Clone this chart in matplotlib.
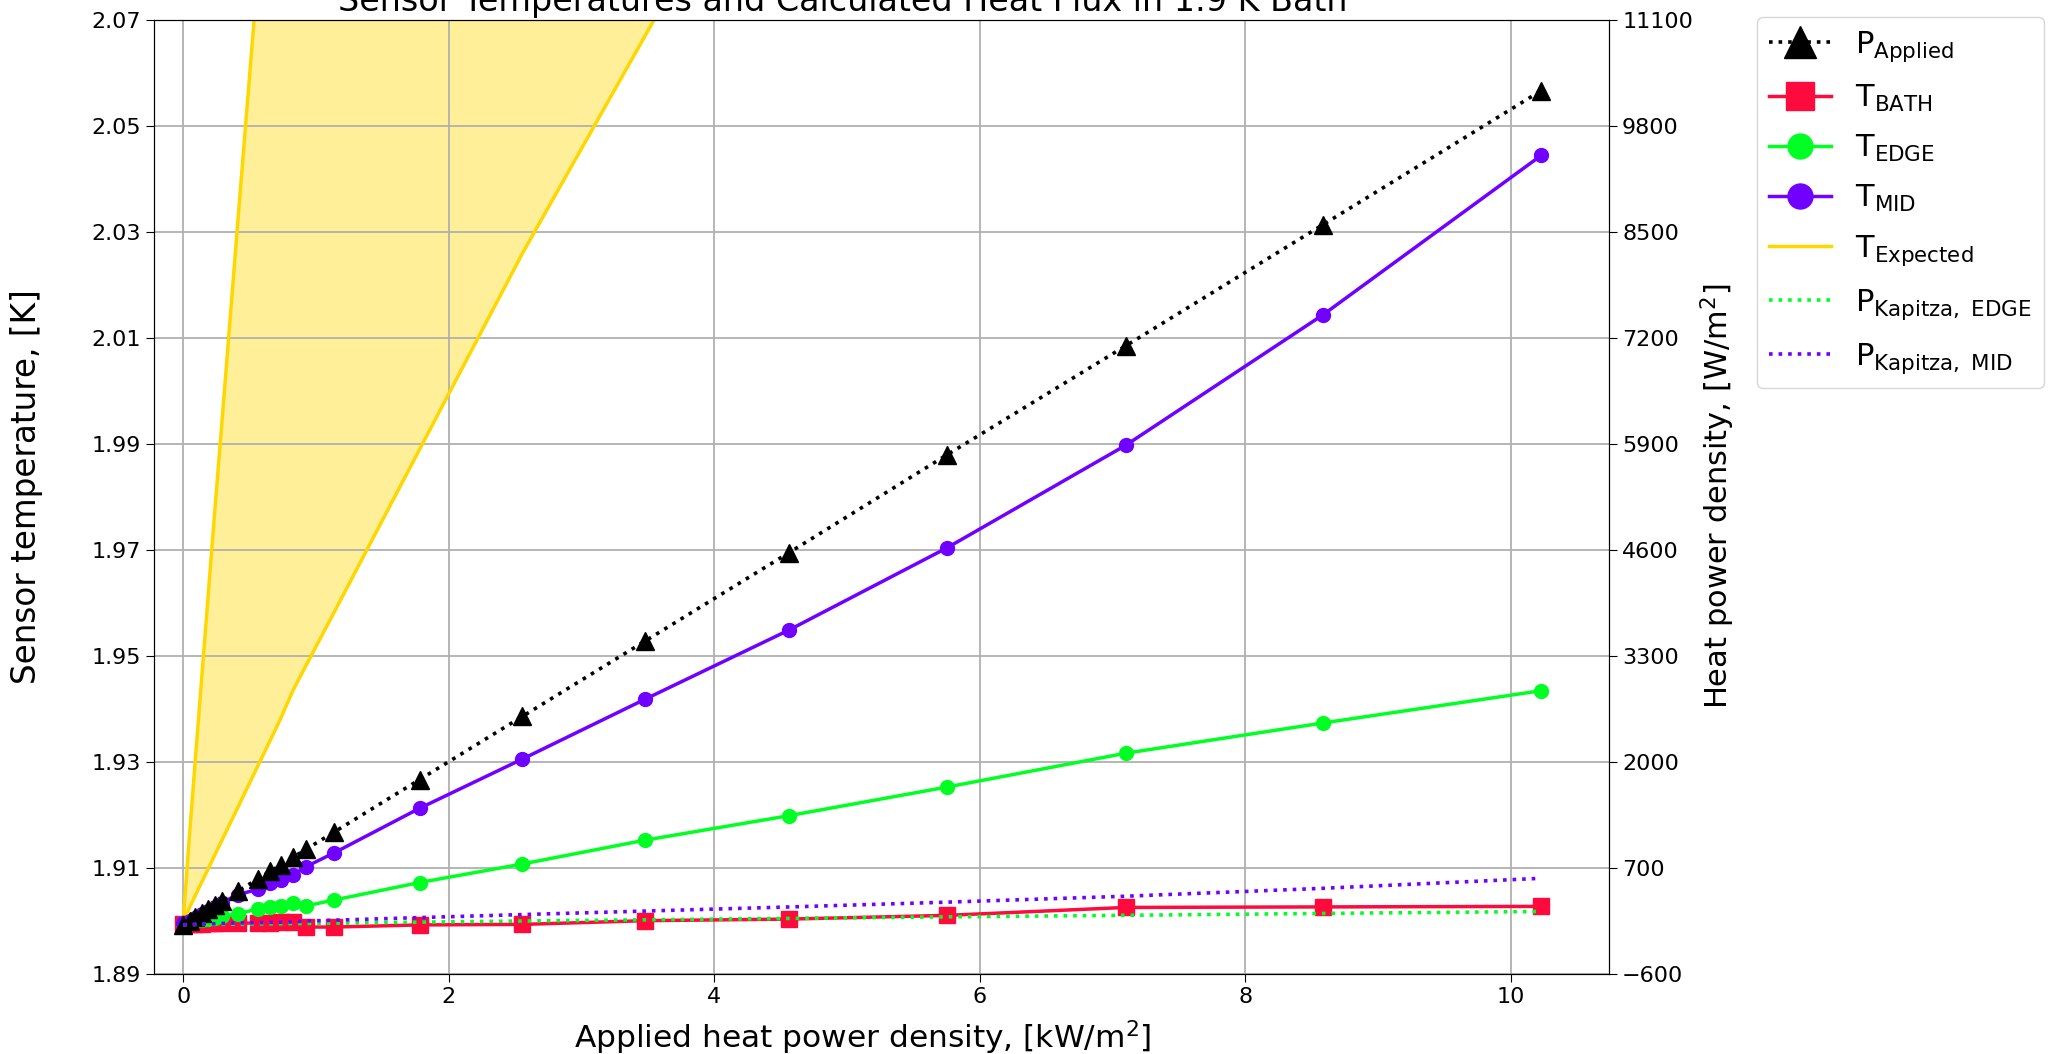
import numpy as np
import matplotlib
matplotlib.use("Agg")
import matplotlib.pyplot as plt

plt.rcParams['font.family'] = ['DejaVu Sans']
plt.rcParams['mathtext.default'] = 'regular'

# Applied heat power density [kW/m^2]
x_kw = [0.0, 0.05, 0.09, 0.14, 0.19, 0.24, 0.29, 0.41, 0.56, 0.655, 0.735, 0.826,
        0.926, 1.137, 1.78, 2.555, 3.48, 4.56, 5.75, 7.10, 8.585, 10.23]

# Applied power [W/m^2] (right axis)
p_applied = [0, 50, 90, 140, 190, 240, 290, 410, 560, 655, 735, 826,
             926, 1137, 1780, 2555, 3480, 4560, 5760, 7100, 8585, 10230]

# Sensor temperatures [K]
t_bath = [1.8993, 1.8993, 1.8994, 1.8994, 1.8995, 1.8995, 1.8995, 1.8995, 1.8996, 1.8996,
          1.8997, 1.8997, 1.8988, 1.8988, 1.8992, 1.8993, 1.9000, 1.9003, 1.9010,
          1.9025, 1.9026, 1.9027]
t_edge = [1.8995, 1.8998, 1.9000, 1.9002, 1.9004, 1.9006, 1.9008, 1.9013, 1.9022, 1.9025,
          1.9028, 1.9034, 1.9028, 1.9039, 1.9072, 1.9107, 1.9152, 1.9198, 1.9252,
          1.9316, 1.9373, 1.9434]
t_mid = [1.8995, 1.9000, 1.9005, 1.9012, 1.9018, 1.9025, 1.9034, 1.9049, 1.9059, 1.9072,
         1.9076, 1.9086, 1.9102, 1.9128, 1.9212, 1.9305, 1.9418, 1.9548, 1.9703,
         1.9897, 2.0143, 2.0444]

# Expected temperature band [K]
t_exp_upper = [1.9000, 1.9170, 1.9300, 1.9460, 1.9620, 1.9780, 1.9935, 2.0315, 2.0780,
               2.1070, 2.1310, 2.1580, 2.1880, 2.2500, 2.4400, 2.6600, 2.9200, 3.2200,
               3.5500, 3.9200, 4.3300, 4.7800]
t_exp_lower = [1.9000, 1.9026, 1.9047, 1.9073, 1.9099, 1.9125, 1.9151, 1.9213, 1.9291,
               1.9340, 1.9382, 1.9434, 1.9482, 1.9582, 1.9889, 2.0259, 2.0670, 2.1150,
               2.1680, 2.2280, 2.2940, 2.3670]

# Kapitza heat flux [W/m^2] (right axis)
p_kap_edge = [0, 2, 3, 4, 5, 6, 6, 7, 10, 12, 12, 15, 16, 20, 32, 46, 61, 78, 97,
              116, 139, 163]
p_kap_mid = [0, 3, 5, 8, 10, 13, 16, 22, 25, 30, 32, 36, 46, 56, 88, 125, 168, 218,
             277, 350, 447, 570]

left_ticks = [1.89, 1.91, 1.93, 1.95, 1.97, 1.99, 2.01, 2.03, 2.05, 2.07]
right_ticks = [-600, 700, 2000, 3300, 4600, 5900, 7200, 8500, 9800, 11100]
x_ticks = [0, 2, 4, 6, 8, 10]

c_red = '#ff0a3c'
c_green = '#00ff22'
c_purple = '#7000ff'
c_gold = '#ffd700'

fig = plt.figure(figsize=(20.48, 10.54), dpi=100)
ax = fig.add_axes([0.0752, 0.0762, 0.7104, 0.9051])
ax2 = ax.twinx()

ax.fill_between(x_kw, t_exp_lower, t_exp_upper, color=c_gold, alpha=0.4, lw=0, zorder=1)
ax.plot(x_kw, t_exp_upper, color=c_gold, lw=2.5, zorder=2)
l_exp, = ax.plot(x_kw, t_exp_lower, color=c_gold, lw=2.5, zorder=2, label=r'T$_{Expected}$')
l_bath, = ax.plot(x_kw, t_bath, color=c_red, lw=2.5, marker='s', ms=11, zorder=3,
                  label=r'T$_{BATH}$')
l_edge, = ax.plot(x_kw, t_edge, color=c_green, lw=2.5, marker='o', ms=10, zorder=3,
                  label=r'T$_{EDGE}$')
l_mid, = ax.plot(x_kw, t_mid, color=c_purple, lw=2.5, marker='o', ms=10, zorder=3,
                 label=r'T$_{MID}$')

l_app, = ax2.plot(x_kw, p_applied, color='black', ls=':', lw=2.6, marker='^', ms=13,
                  label=r'P$_{Applied}$')
l_ke, = ax2.plot(x_kw, p_kap_edge, color=c_green, ls=':', lw=2.6,
                 label=r'P$_{Kapitza,\ EDGE}$')
l_km, = ax2.plot(x_kw, p_kap_mid, color=c_purple, ls=':', lw=2.6,
                 label=r'P$_{Kapitza,\ MID}$')

ax.set_xlim(-0.22, 10.74)
ax.set_ylim(1.89, 2.07)
ax2.set_ylim(-600, 11100)
ax.set_xticks(x_ticks)
ax.set_yticks(left_ticks)
ax.set_yticklabels([f'{v:.2f}' for v in left_ticks])
ax2.set_yticks(right_ticks)
ax.grid(True, color='#b0b0b0', lw=1.3)
ax.tick_params(labelsize=16, length=6)
ax2.tick_params(labelsize=16, length=6)

ax.set_xlabel(r'Applied heat power density, [kW/m$^2$]', fontsize=22.5)
ax.xaxis.set_label_coords(0.487, -0.047)
ax.set_ylabel('Sensor temperature, [K]', fontsize=23.5)
ax.yaxis.set_label_coords(-0.076, 0.511)
ax2.set_ylabel(r'Heat power density, [W/m$^2$]', fontsize=22)
ax.set_title('Sensor Temperatures and Calculated Heat Flux in 1.9 K Bath', fontsize=24,
             x=0.4735)

handles = [l_app, l_bath, l_edge, l_mid, l_exp, l_ke, l_km]
fig.legend(handles=handles, labels=[h.get_label() for h in handles],
           loc='upper left', bbox_to_anchor=(0.858, 0.984), borderaxespad=0,
           fontsize=22, markerscale=1.8, handlelength=2.0, labelspacing=0.62)

fig.savefig('out.png', dpi=100)
